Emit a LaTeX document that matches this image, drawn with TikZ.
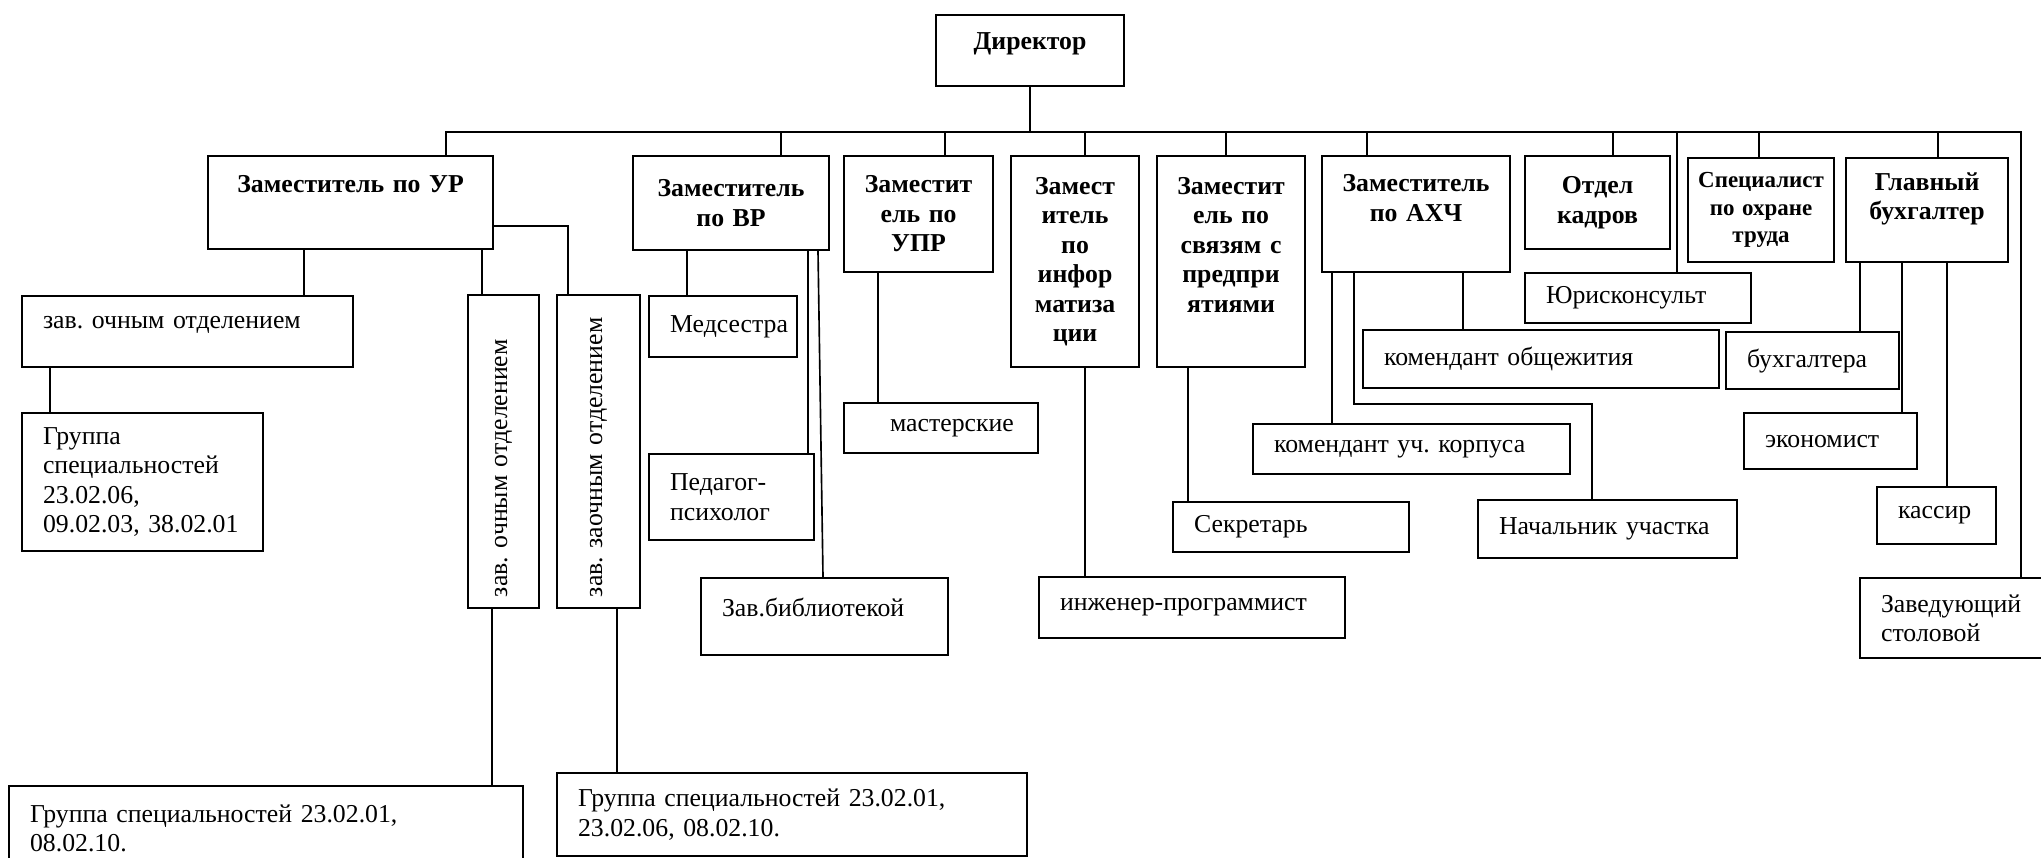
\documentclass[tikz,border=0pt]{standalone}
\usepackage{fontspec}
\setmainfont{Liberation Serif}
\newcommand\orgsize{\fontsize{11}{12.6}\selectfont}

\begin{document}
\begin{tikzpicture}[x=0.15mm, y=-0.15mm,
  box/.style={draw, line width=0.9pt, inner ysep=0pt, anchor=north west},
  staff/.style 2 args={box, minimum width=#1*0.15mm, minimum height=#2*0.15mm,
    inner xsep=3.15mm, text width=#1*0.15mm-6.3mm, align=left, font=\orgsize},
  chief/.style 2 args={box, minimum width=#1*0.15mm, minimum height=#2*0.15mm,
    inner xsep=0.6mm, text width=#1*0.15mm-1.2mm, align=center, font=\orgsize\bfseries},
  lift/.style={execute at end node={\endgraf\vspace*{#1}}},
  link/.style={line width=0.7pt}]
\clip (0,0) rectangle (2041,857);
%
\node[chief={188}{71}, lift=2mm] (dir) at (935,14) {Директор};
\coordinate (bus) at (dir.south |- 0,132);
%
\node[chief={285}{93}, lift=5.4mm] (ur) at (207,155) {Заместитель по УР};
\node[chief={196}{94}] (vr) at (632,155) {Заместитель\\по ВР};
\node[chief={149}{116}] (upr) at (843,155) {Заместит\\ель по\\УПР};
\node[chief={128}{211}] (inf) at (1010,155) {Замест\\итель\\по\\инфор\\матиза\\ции};
\node[chief={148}{211}, lift=5.1mm] (svz) at (1156,155) {Заместит\\ель по\\связям с\\предпри\\ятиями};
\node[chief={188}{116}, lift=4.8mm] (ahch) at (1321,155) {Заместитель\\по АХЧ};
\node[chief={145}{93}] (kadr) at (1524,155) {Отдел\\кадров};
\node[chief={146}{104}, font=\fontsize{9.8}{11.8}\selectfont\bfseries] (ohr) at (1687,157) {Специалист\\по охране\\труда};
\node[chief={162}{104}, lift=3.3mm] (buh) at (1845,157) {Главный\\бухгалтер};
%
\node[staff={331}{71}, lift=2.1mm] (och) at (21,295) {зав.\ очным отделением};
\node[staff={241}{138}] (grp1) at (21,412) {Группа\\специальностей\\23.02.06,\\09.02.03,~38.02.01};
\node[staff={313}{71}, rotate=90, anchor=center, inner xsep=1.65mm, text width=43.65mm] (ochv) at (503.5,451.5) {зав.\ очным отделением};
\node[staff={313}{83}, rotate=90, anchor=center, inner xsep=1.65mm, text width=43.65mm] (zaoch) at (598.5,451.5) {зав.\ заочным отделением};
\node[staff={514}{85}] (grp2) at (8,785) {Группа специальностей 23.02.01,\\08.02.10.};
\node[staff={470}{83}] (grp3) at (556,772) {Группа специальностей 23.02.01,\\23.02.06, 08.02.10.};
%
\node[staff={148}{61}] (med) at (648,295) {Медсестра};
\node[staff={165}{86}] (psy) at (648,453) {Педагог-\\психолог};
\node[staff={247}{77}, lift=2.6mm] (bib) at (700,577) {Зав.библиотекой};
\node[staff={194}{50}, inner xsep=6.9mm, text width=15.3mm] (mast) at (843,402) {мастерские};
\node[staff={306}{61}] (prog) at (1038,576) {\mbox{инженер-программист}};
\node[staff={236}{50}] (sekr) at (1172,501) {Секретарь};
%
\node[staff={317}{50}] (korp) at (1252,423) {комендант уч.~корпуса};
\node[staff={356}{58}] (obsh) at (1362,329) {комендант общежития};
\node[staff={259}{58}] (nach) at (1477,499) {Начальник~участка};
\node[staff={226}{50}] (yur) at (1524,272) {Юрисконсульт};
%
\node[staff={173}{57}] (bux) at (1725,331) {бухгалтера};
\node[staff={173}{56}] (econ) at (1743,412) {экономист};
\node[staff={119}{57}] (kas) at (1876,486) {кассир};
\node[staff={200}{80}] (stol) at (1859,577) {Заведующий\\столовой};
%
\draw[link] (dir.south) -- (bus);
\draw[link] (ur.north -| 446,0) |- (bus) -| (stol.north -| 2021,0);
\draw[link] (bus -| 781,0) -- (vr.north -| 781,0);
\draw[link] (bus -| 945,0) -- (upr.north -| 945,0);
\draw[link] (bus -| 1085,0) -- (inf.north -| 1085,0);
\draw[link] (bus -| 1226,0) -- (svz.north -| 1226,0);
\draw[link] (bus -| 1367,0) -- (ahch.north -| 1367,0);
\draw[link] (bus -| 1613,0) -- (kadr.north -| 1613,0);
\draw[link] (bus -| 1677,0) -- (yur.north -| 1677,0);
\draw[link] (bus -| 1759,0) -- (ohr.north -| 1759,0);
\draw[link] (bus -| 1938,0) -- (buh.north -| 1938,0);
%
\draw[link] (ur.south -| 304,0) -- (och.north -| 304,0);
\draw[link] (och.south -| 50,0) -- (grp1.north -| 50,0);
\draw[link] (ur.south -| 482,0) -- (ochv.east -| 482,0);
\draw[link] (ur.east |- 0,226) -| (zaoch.east -| 568,0);
\draw[link] (ochv.west -| 492,0) -- (grp2.north -| 492,0);
\draw[link] (zaoch.west -| 617,0) -- (grp3.north -| 617,0);
%
\draw[link] (vr.south -| 687,0) -- (med.north -| 687,0);
\draw[link] (vr.south -| 808,0) -- (psy.north -| 808,0);
\draw[link] (vr.south -| 818,0) -- (bib.north -| 823,0);
\draw[link] (upr.south -| 878,0) -- (mast.north -| 878,0);
\draw[link] (inf.south -| 1085,0) -- (prog.north -| 1085,0);
\draw[link] (svz.south -| 1188,0) -- (sekr.north -| 1188,0);
%
\draw[link] (ahch.south -| 1332,0) -- (korp.north -| 1332,0);
\draw[link] (ahch.south -| 1354,0) -- ++(0,131) -| (nach.north -| 1592,0);
\draw[link] (ahch.south -| 1463,0) -- (obsh.north -| 1463,0);
%
\draw[link] (buh.south -| 1860,0) -- (bux.north -| 1860,0);
\draw[link] (buh.south -| 1902,0) -- (econ.north -| 1902,0);
\draw[link] (buh.south -| 1947,0) -- (kas.north -| 1947,0);
\end{tikzpicture}
\end{document}
